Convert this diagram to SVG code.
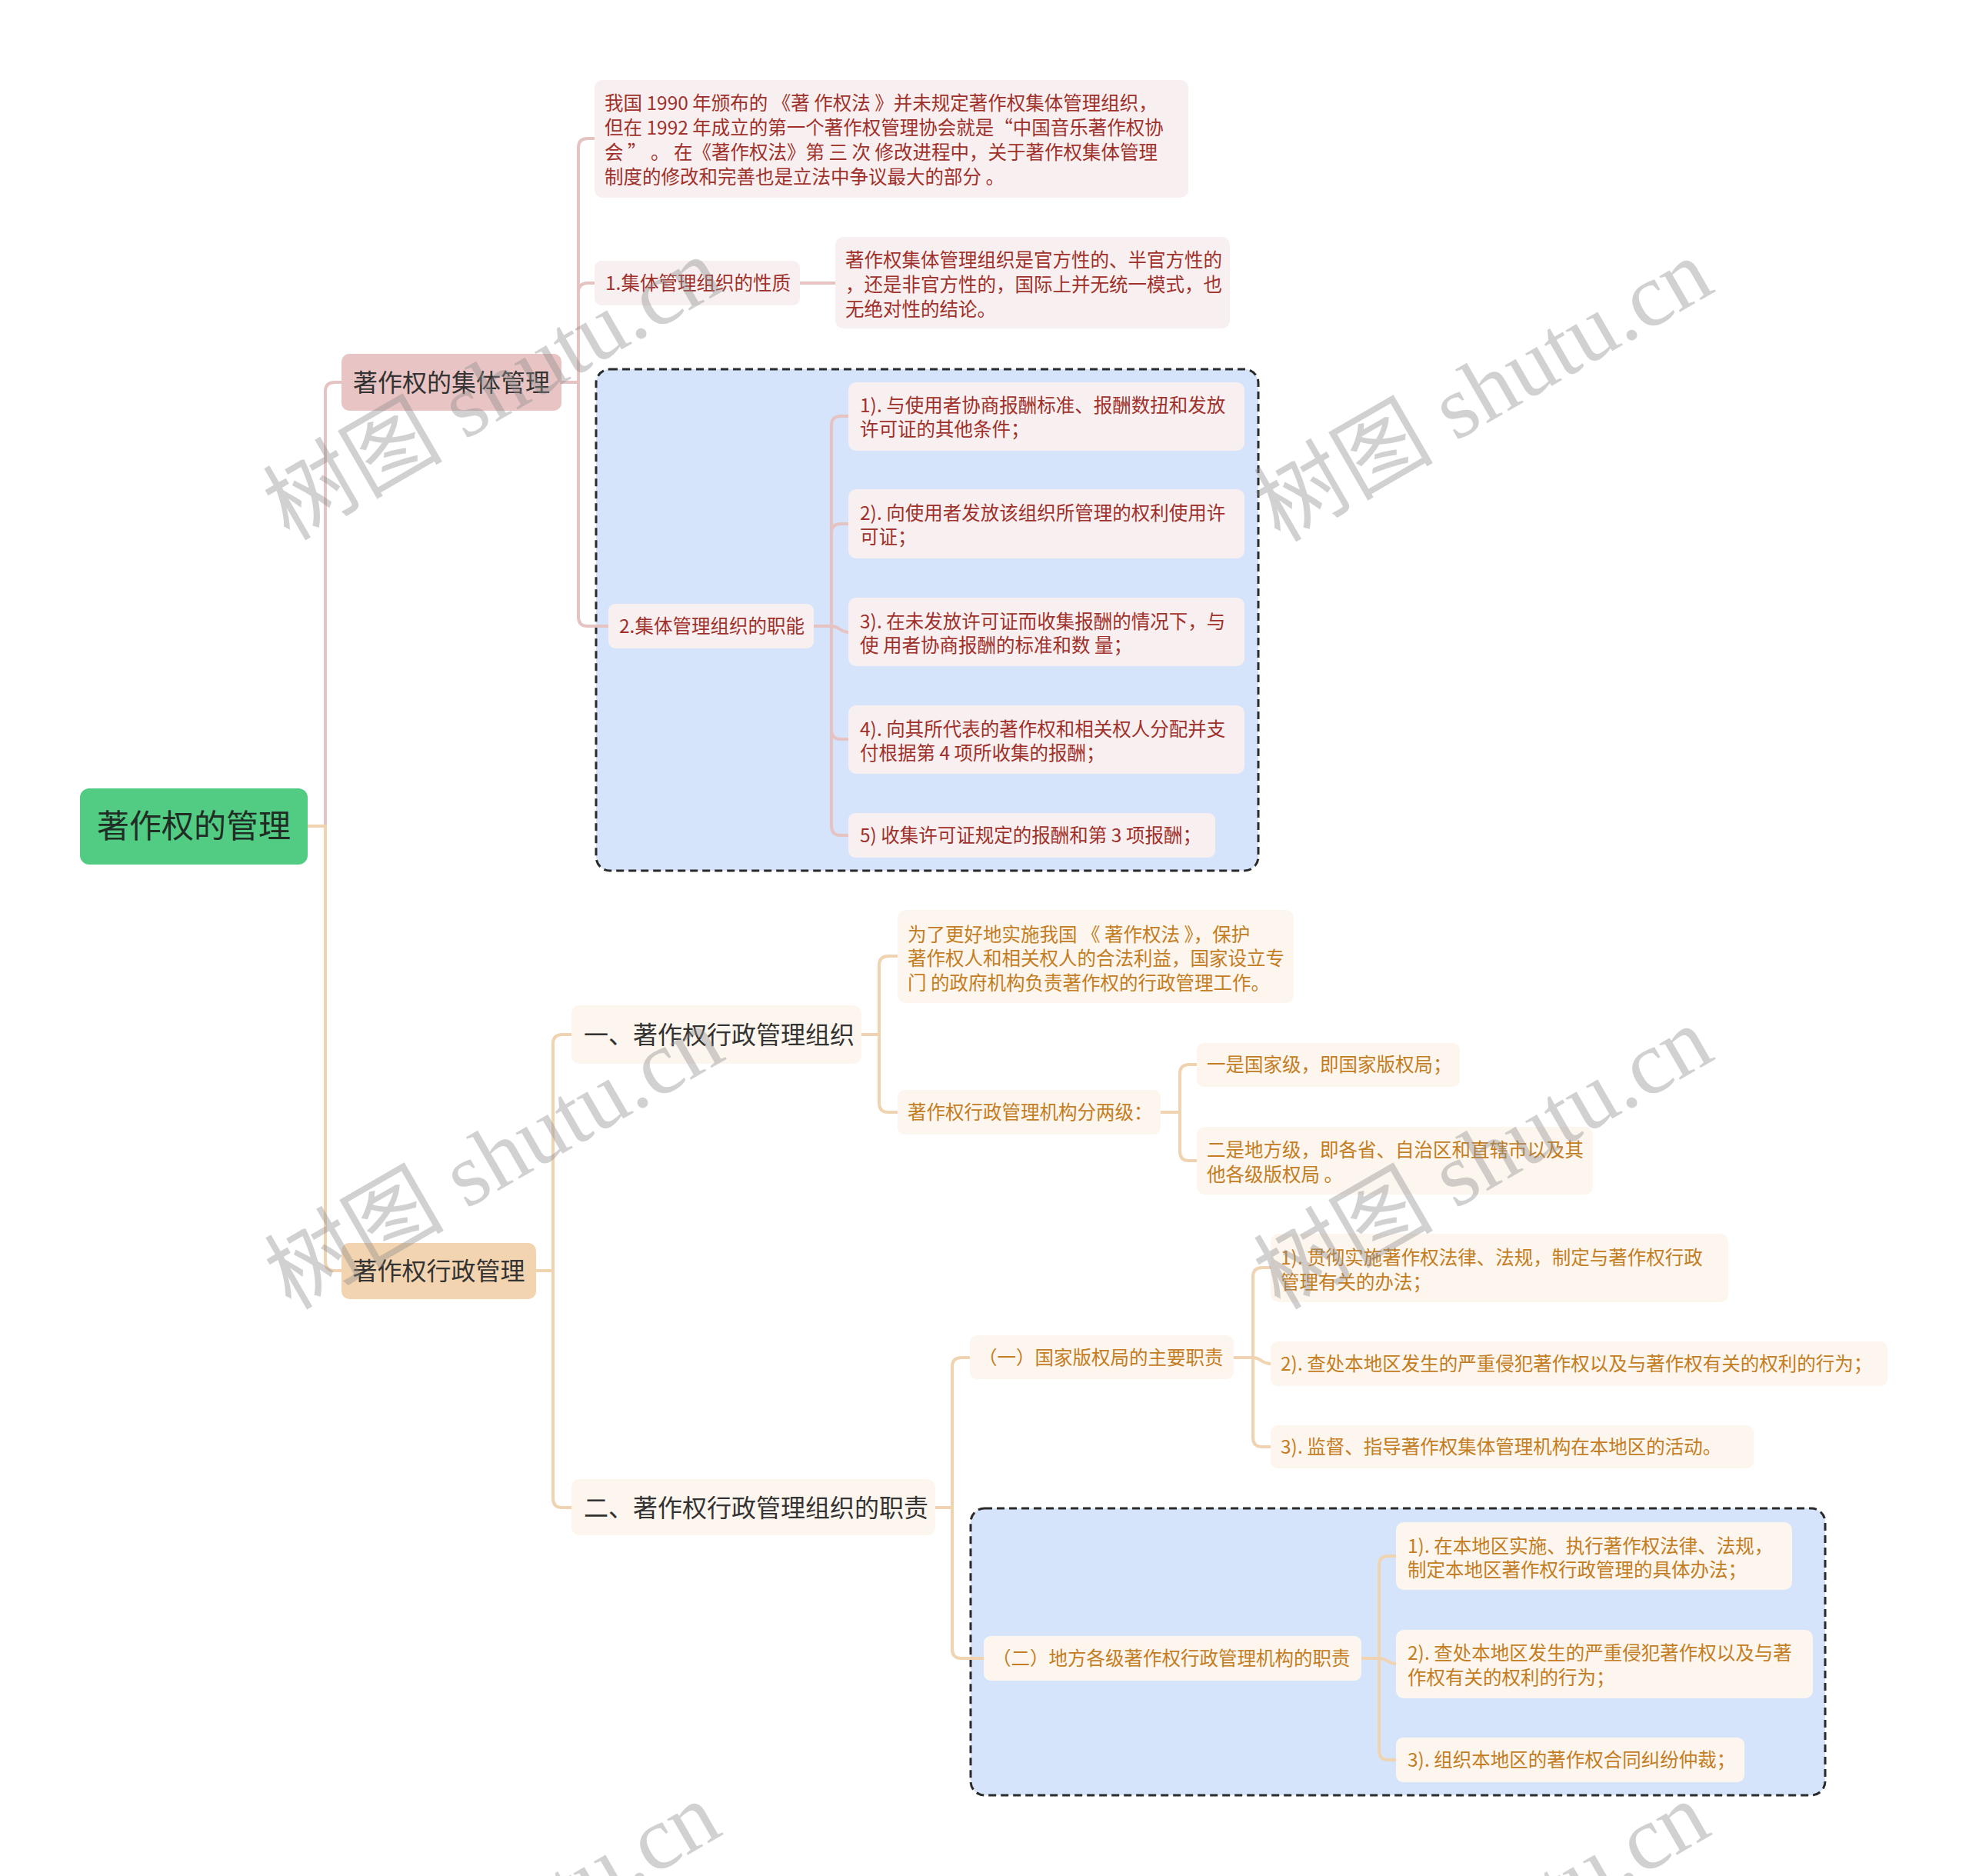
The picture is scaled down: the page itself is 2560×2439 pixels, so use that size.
<svg xmlns="http://www.w3.org/2000/svg" width="2560" height="2439" viewBox="0 0 2560 2439">
<style>
text{font-family:'Noto Sans CJK SC','Noto Sans',sans-serif;}
.bg{fill:#ffffff;}
.n0{fill:#52CC83;}
.a1{fill:#E8C4C4;}
.b1{fill:#F2D4B0;}
.a2{fill:#F8F0F0;}
.b2{fill:#FDF6EE;}
.grp{fill:#D6E4FB;stroke:#2b2b2b;stroke-width:3;stroke-dasharray:10 6;}
.t0{font-size:42px;fill:#1f2d25;}
.t1{font-size:32px;fill:#333333;}
.ta{font-size:24.5px;fill:#A0302B;}
.tb{font-size:24.5px;fill:#C47D22;}
.la{fill:none;stroke:#E6C3C3;stroke-width:4;}
.lb{fill:none;stroke:#F0D4B2;stroke-width:4;}
.wm{font-family:'Liberation Serif','Noto Sans CJK SC',serif;font-size:117px;fill:#8c8c8c;fill-opacity:0.4;}
</style>
<rect class="bg" x="0" y="0" width="2560" height="2439"/>

<!-- group frames -->
<rect class="grp" x="775" y="480" width="861" height="652" rx="18"/>
<rect class="grp" x="1262" y="1961" width="1111" height="373" rx="18"/>

<!-- connectors -->
<g id="connectors">
<path class="la" d="M400 1074 H423 V509 Q423 497 435 497 H444"/>
<path class="lb" d="M400 1074 H423 V1640 Q423 1652 435 1652 H444"/>
<path class="la" d="M730 497 H752 V192 Q752 180 764 180 H773"/>
<path class="la" d="M730 497 H752 V380 Q752 368 764 368 H773"/>
<path class="la" d="M730 497 H752 V802 Q752 814 764 814 H791"/>
<path class="la" d="M1040 368 H1086"/>
<path class="la" d="M1058 814 H1081 V553 Q1081 541 1093 541 H1103"/>
<path class="la" d="M1058 814 H1081 V693 Q1081 681 1093 681 H1103"/>
<path class="la" d="M1058 814 H1081 C1092 814 1092 822 1103 822"/>
<path class="la" d="M1058 814 H1081 V949 Q1081 961 1093 961 H1103"/>
<path class="la" d="M1058 814 H1081 V1074 Q1081 1086 1093 1086 H1103"/>
<path class="lb" d="M697 1652 H719 V1357 Q719 1345 731 1345 H743"/>
<path class="lb" d="M697 1652 H719 V1948 Q719 1960 731 1960 H743"/>
<path class="lb" d="M1120 1345 H1143 V1255 Q1143 1243 1155 1243 H1167"/>
<path class="lb" d="M1120 1345 H1143 V1434 Q1143 1446 1155 1446 H1167"/>
<path class="lb" d="M1509 1446 H1534 V1396 Q1534 1384 1546 1384 H1556"/>
<path class="lb" d="M1509 1446 H1534 V1497 Q1534 1509 1546 1509 H1556"/>
<path class="lb" d="M1216 1960 H1238 V1777 Q1238 1765 1250 1765 H1261"/>
<path class="lb" d="M1216 1960 H1238 V2144 Q1238 2156 1250 2156 H1279"/>
<path class="lb" d="M1604 1765 H1629 V1660 Q1629 1648 1641 1648 H1652"/>
<path class="lb" d="M1604 1765 H1629 C1640 1765 1640 1773 1652 1773"/>
<path class="lb" d="M1604 1765 H1629 V1869 Q1629 1881 1641 1881 H1652"/>
<path class="lb" d="M1770 2156 H1793 V2035 Q1793 2023 1805 2023 H1815"/>
<path class="lb" d="M1770 2156 H1793 C1804 2156 1804 2163 1815 2163"/>
<path class="lb" d="M1770 2156 H1793 V2276 Q1793 2288 1805 2288 H1815"/>
</g>

<!-- root -->
<g id="root">
<rect class="n0" x="104" y="1025" width="296" height="99" rx="12"/>
<text class="t0" x="252" y="1089" text-anchor="middle">著作权的管理</text>
</g>

<!-- branch A -->
<g id="nodeA">
<rect class="a1" x="444" y="460" width="286" height="74" rx="10"/>
<text class="t1" x="587" y="508.5" text-anchor="middle">著作权的集体管理</text>
</g>
<g id="nodeA1">
<rect class="a2" x="773" y="104" width="772" height="153" rx="10"/>
<text class="ta" x="786" y="142.6">我国 1990 年颁布的 《著 作权法 》并未规定著作权集体管理组织，</text>
<text class="ta" x="786" y="174.6">但在 1992 年成立的第一个著作权管理协会就是“中国音乐著作权协</text>
<text class="ta" x="786" y="206.6">会 ” 。 在《著作权法》第 三 次 修改进程中，关于著作权集体管理</text>
<text class="ta" x="786" y="238.6">制度的修改和完善也是立法中争议最大的部分 。</text>
</g>
<g id="nodeA2">
<rect class="a2" x="773" y="339" width="267" height="58" rx="9"/>
<text class="ta" x="787" y="376.6">1.集体管理组织的性质</text>
</g>
<g id="nodeA2a">
<rect class="a2" x="1086" y="308" width="513" height="119" rx="10"/>
<text class="ta" x="1099" y="346.6">著作权集体管理组织是官方性的、半官方性的</text>
<text class="ta" x="1099" y="378.6">，还是非官方性的，国际上并无统一模式，也</text>
<text class="ta" x="1099" y="410.6">无绝对性的结论。</text>
</g>
<g id="nodeA3">
<rect class="a2" x="791" y="785" width="267" height="58" rx="9"/>
<text class="ta" x="805" y="822.6">2.集体管理组织的职能</text>
</g>
<g id="nodeA3a">
<rect class="a2" x="1103" y="497" width="515" height="89" rx="10"/>
<text class="ta" x="1118" y="535.6">1). 与使用者协商报酬标准、报酬数扭和发放</text>
<text class="ta" x="1118" y="566.6">许可证的其他条件；</text>
</g>
<g id="nodeA3b">
<rect class="a2" x="1103" y="636" width="515" height="90" rx="10"/>
<text class="ta" x="1118" y="675.6">2). 向使用者发放该组织所管理的权利使用许</text>
<text class="ta" x="1118" y="706.6">可证；</text>
</g>
<g id="nodeA3c">
<rect class="a2" x="1103" y="777" width="515" height="89" rx="10"/>
<text class="ta" x="1118" y="816.6">3). 在未发放许可证而收集报酬的情况下，与</text>
<text class="ta" x="1118" y="847.6">使 用者协商报酬的标准和数 量；</text>
</g>
<g id="nodeA3d">
<rect class="a2" x="1103" y="917" width="515" height="89" rx="10"/>
<text class="ta" x="1118" y="956.6">4). 向其所代表的著作权和相关权人分配并支</text>
<text class="ta" x="1118" y="987.6">付根据第 4 项所收集的报酬；</text>
</g>
<g id="nodeA3e">
<rect class="a2" x="1103" y="1057" width="477" height="58" rx="9"/>
<text class="ta" x="1118" y="1094.6">5) 收集许可证规定的报酬和第 3 项报酬；</text>
</g>

<!-- branch B -->
<g id="nodeB">
<rect class="b1" x="444" y="1616" width="253" height="73" rx="10"/>
<text class="t1" x="570.5" y="1663.5" text-anchor="middle">著作权行政管理</text>
</g>
<g id="nodeB1">
<rect class="b2" x="743" y="1307" width="377" height="76" rx="10"/>
<text class="t1" x="759" y="1356.5">一、著作权行政管理组织</text>
</g>
<g id="nodeB1a">
<rect class="b2" x="1167" y="1183" width="515" height="121" rx="10"/>
<text class="tb" x="1180" y="1223.6">为了更好地实施我国 《 著作权法 》，保护</text>
<text class="tb" x="1180" y="1254.6">著作权人和相关权人的合法利益，国家设立专</text>
<text class="tb" x="1180" y="1286.6">门 的政府机构负责著作权的行政管理工作。</text>
</g>
<g id="nodeB1b">
<rect class="b2" x="1167" y="1417" width="342" height="58" rx="9"/>
<text class="tb" x="1180" y="1454.6">著作权行政管理机构分两级：</text>
</g>
<g id="nodeB1b1">
<rect class="b2" x="1556" y="1356" width="342" height="57" rx="9"/>
<text class="tb" x="1569" y="1392.6">一是国家级，即国家版权局；</text>
</g>
<g id="nodeB1b2">
<rect class="b2" x="1556" y="1465" width="515" height="88" rx="10"/>
<text class="tb" x="1569" y="1503.6">二是地方级，即各省、自治区和直辖市以及其</text>
<text class="tb" x="1569" y="1535.6">他各级版权局 。</text>
</g>
<g id="nodeB2">
<rect class="b2" x="743" y="1923" width="473" height="73" rx="10"/>
<text class="t1" x="759" y="1971.5">二、著作权行政管理组织的职责</text>
</g>
<g id="nodeB2a">
<rect class="b2" x="1261" y="1736" width="343" height="57" rx="9"/>
<text class="tb" x="1272" y="1773.6">（一）国家版权局的主要职责</text>
</g>
<g id="nodeB2a1">
<rect class="b2" x="1652" y="1604" width="595" height="89" rx="10"/>
<text class="tb" x="1665" y="1643.6">1). 贯彻实施著作权法律、法规，制定与著作权行政</text>
<text class="tb" x="1665" y="1675.6">管理有关的办法；</text>
</g>
<g id="nodeB2a2">
<rect class="b2" x="1652" y="1744" width="802" height="58" rx="9"/>
<text class="tb" x="1665" y="1781.6">2). 查处本地区发生的严重侵犯著作权以及与著作权有关的权利的行为；</text>
</g>
<g id="nodeB2a3">
<rect class="b2" x="1652" y="1853" width="628" height="56" rx="9"/>
<text class="tb" x="1665" y="1889.6">3). 监督、指导著作权集体管理机构在本地区的活动。</text>
</g>
<g id="nodeB2b">
<rect class="b2" x="1279" y="2127" width="491" height="58" rx="9"/>
<text class="tb" x="1290" y="2164.6">（二）地方各级著作权行政管理机构的职责</text>
</g>
<g id="nodeB2b1">
<rect class="b2" x="1815" y="1979" width="515" height="88" rx="10"/>
<text class="tb" x="1830" y="2018.6">1). 在本地区实施、执行著作权法律、法规，</text>
<text class="tb" x="1830" y="2049.6">制定本地区著作权行政管理的具体办法；</text>
</g>
<g id="nodeB2b2">
<rect class="b2" x="1815" y="2119" width="542" height="89" rx="10"/>
<text class="tb" x="1830" y="2157.6">2). 查处本地区发生的严重侵犯著作权以及与著</text>
<text class="tb" x="1830" y="2189.6">作权有关的权利的行为；</text>
</g>
<g id="nodeB2b3">
<rect class="b2" x="1815" y="2259" width="453" height="58" rx="9"/>
<text class="tb" x="1830" y="2296.6">3). 组织本地区的著作权合同纠纷仲裁；</text>
</g>

<!-- watermarks -->
<g id="watermarks">
<text class="wm" transform="translate(376 704) rotate(-30)">树图 shutu.cn</text>
<text class="wm" transform="translate(1664 706) rotate(-30)">树图 shutu.cn</text>
<text class="wm" transform="translate(378 1704) rotate(-30)">树图 shutu.cn</text>
<text class="wm" transform="translate(1664 1704) rotate(-30)">树图 shutu.cn</text>
<text class="wm" transform="translate(374 2712) rotate(-30)">树图 shutu.cn</text>
<text class="wm" transform="translate(1660 2712) rotate(-30)">树图 shutu.cn</text>
</g>
</svg>
